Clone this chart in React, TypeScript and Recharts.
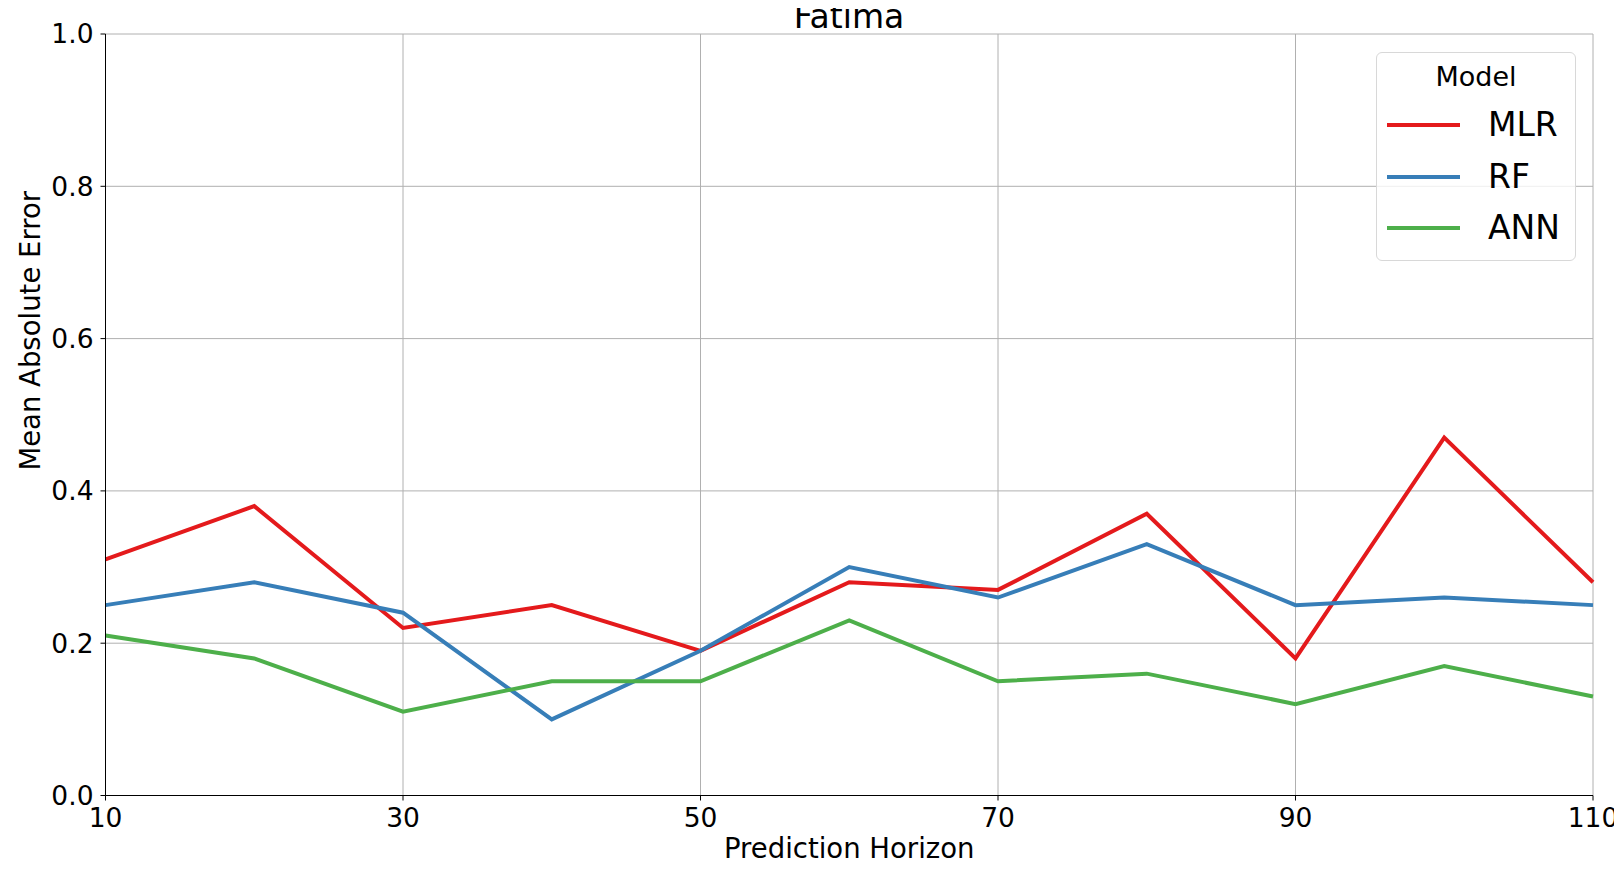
import React from 'react';
import {
  LineChart,
  Line,
  XAxis,
  YAxis,
  CartesianGrid,
} from 'recharts';

const horizons = [10, 20, 30, 40, 50, 60, 70, 80, 90, 100, 110];
const mlr = [0.31, 0.38, 0.22, 0.25, 0.19, 0.28, 0.27, 0.37, 0.18, 0.47, 0.28];
const rf = [0.25, 0.28, 0.24, 0.1, 0.19, 0.3, 0.26, 0.33, 0.25, 0.26, 0.25];
const ann = [0.21, 0.18, 0.11, 0.15, 0.15, 0.23, 0.15, 0.16, 0.12, 0.17, 0.13];
const xTicks = [10, 30, 50, 70, 90, 110];
const yTicks = [0, 0.2, 0.4, 0.6, 0.8, 1.0];

const seriesList = [
  { key: 'MLR', values: mlr, color: '#e41a1c' },
  { key: 'RF', values: rf, color: '#377eb8' },
  { key: 'ANN', values: ann, color: '#4daf4a' },
];

const data = horizons.map((h, i) => ({
  horizon: h,
  MLR: mlr[i],
  RF: rf[i],
  ANN: ann[i],
}));

const FONT = '"DejaVu Sans", sans-serif';

function ModelLegend() {
  return (
    <div
      style={{
        position: 'absolute',
        left: 1376,
        top: 52,
        width: 200,
        height: 209,
        boxSizing: 'border-box',
        border: '1px solid #d8d8d8',
        borderRadius: 6,
        background: 'rgba(255,255,255,0.8)',
        fontFamily: FONT,
      }}
    >
      <div style={{ position: 'absolute', top: 9, width: '100%', textAlign: 'center', fontSize: 27, lineHeight: '30px' }}>Model</div>
      {seriesList.map((s, i) => (
        <div key={`lg-${s.key}`} style={{ position: 'absolute', top: 52 + i * 51.5, left: 0, height: 40, display: 'flex', alignItems: 'center' }}>
          <span style={{ display: 'inline-block', marginLeft: 10, width: 73, height: 4, background: s.color }} />
          <span style={{ marginLeft: 28, fontSize: 33, lineHeight: '40px' }}>{s.key}</span>
        </div>
      ))}
    </div>
  );
}

function YLabel({ viewBox }: any) {
  const x = viewBox.x - 16;
  const y = viewBox.y + viewBox.height / 2 - 84;
  return (
    <text
      x={x}
      y={y}
      transform={`rotate(-90, ${x}, ${y})`}
      textAnchor="middle"
      dominantBaseline="central"
      fontSize={27.5}
      fontFamily={FONT}
      fill="#000"
    >
      Mean Absolute Error
    </text>
  );
}

function XLabel({ viewBox }: any) {
  return (
    <text
      x={viewBox.x + viewBox.width / 2}
      y={viewBox.y + 62.5}
      textAnchor="middle"
      fontSize={27.5}
      fontFamily={FONT}
      fill="#000"
    >
      Prediction Horizon
    </text>
  );
}

export default function App() {
  return (
    <div style={{ margin: -8, width: 1622, height: 874, position: 'relative', overflow: 'hidden', background: '#fff' }}>
      <div style={{ position: 'absolute', top: 0, left: 349, width: 1000, textAlign: 'center', fontFamily: FONT, fontSize: 33, lineHeight: '33px', zIndex: 2 }}>
        Fatima
      </div>
      <LineChart width={1622} height={874} data={data} margin={{ top: 34, right: 29, left: 45.5, bottom: 38.5 }}>
        <CartesianGrid stroke="#b0b0b0" strokeWidth={1} />
        <XAxis
          dataKey="horizon"
          type="number"
          domain={[10, 110]}
          ticks={xTicks}
          height={40}
          stroke="#000"
          tickSize={5}
          tickMargin={8}
          tick={{ fontSize: 26.5, fill: '#000', fontFamily: FONT }}
          label={<XLabel />}
        />
        <XAxis xAxisId="top" orientation="top" type="number" domain={[10, 110]} dataKey="horizon" height={0} tick={false} tickLine={false} stroke="#000" />
        <YAxis
          type="number"
          domain={[0, 1]}
          ticks={yTicks}
          width={60}
          stroke="#000"
          tickSize={5}
          tickMargin={7}
          tickFormatter={(v) => Number(v).toFixed(1)}
          tick={{ fontSize: 26.5, fill: '#000', fontFamily: FONT }}
          label={<YLabel />}
        />
        <YAxis yAxisId="right" orientation="right" domain={[0, 1]} width={0} tick={false} tickLine={false} stroke="#000" />
        {seriesList.map((s) => (
          <Line
            key={s.key}
            dataKey={s.key}
            stroke={s.color}
            strokeWidth={4}
            dot={false}
            isAnimationActive={false}
          />
        ))}
      </LineChart>
      <ModelLegend />
    </div>
  );
}
